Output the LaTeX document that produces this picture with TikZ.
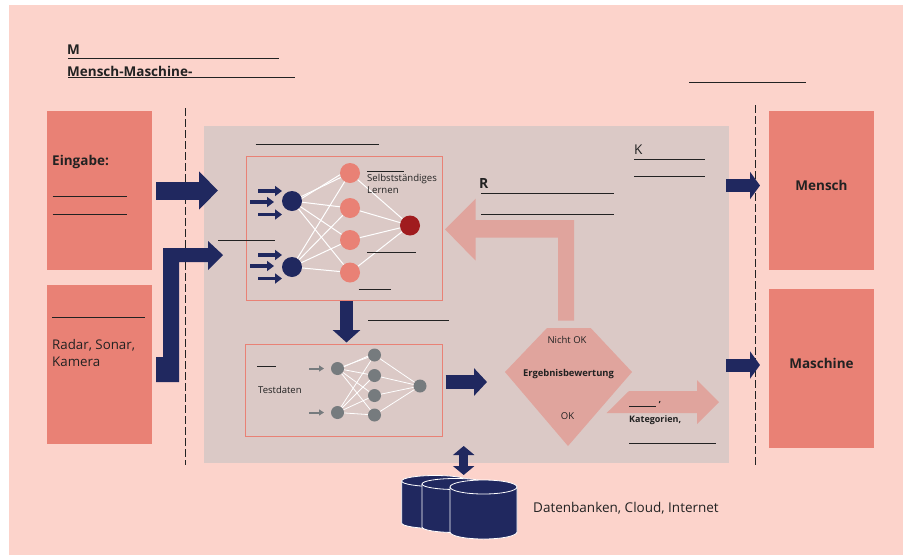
\documentclass[tikz,border=0pt]{standalone}
\usepackage{fontspec}
\setmainfont{Open Sans}
\usetikzlibrary{arrows.meta}
\definecolor{pagepink}{HTML}{FCD3CB}
\definecolor{panelgrey}{HTML}{DBC9C6}
\definecolor{salmon}{HTML}{E98175}
\definecolor{navy}{HTML}{20285F}
\definecolor{darkred}{HTML}{A01B1E}
\definecolor{netgrey}{HTML}{767B7E}
\definecolor{softred}{HTML}{E0A49D}
\definecolor{inkdark}{HTML}{222222}
\begin{document}
\begin{tikzpicture}
  [x=1pt, y=-1pt,
   every node/.style={inner sep=0pt, text=inkdark},
   label small/.style={anchor=west, font=\fontsize{9.5}{11}\selectfont},
   label mid/.style={anchor=west, font=\fontsize{13.5}{15}\selectfont},
   label bold/.style={font=\fontsize{13.5}{15}\selectfont\bfseries},
   sidebox/.style={fill=salmon, minimum width=105pt, minimum height=159pt},
   netbox/.style={draw=salmon, line width=1pt},
   neuron/.style={circle, minimum size=20pt, fill=salmon},
   neuron grey/.style={circle, minimum size=13pt, fill=netgrey},
   link/.style={draw=white, line width=1pt},
   rule/.style={draw=inkdark, line width=0.8pt},
   divider/.style={draw=inkdark, line width=0.8pt, dash pattern=on 8pt off 3pt},
   navyarrow/.style={navy, line width=#1}]

  \useasboundingbox (0,0) rectangle (906,555);
  \fill[pagepink] (9,5) rectangle (903,555);
  \fill[panelgrey] (204,126) rectangle (729,463);
  \draw[divider] (185.5,108) -- (185.5,465);
  \draw[divider] (755,105) -- (755,467);

  % side boxes
  \node[sidebox] (eingabe) at (99.5,190.5) {};
  \node[sidebox] (sensor) at (99.5,364.5) {};
  \node[sidebox] (mensch) at (821.5,190.5) {};
  \node[sidebox] (maschine) at (821.5,368.5) {};
  \node[label bold, anchor=west] (eingabeText) at (52,162) {Eingabe:};
  \node[label mid, align=left, font=\fontsize{13.3}{16.5}\selectfont] (sensorText) at (52,353) {Radar, Sonar,\\Kamera};
  \node[label bold] (menschText) at (821.5,185) {Mensch};
  \node[label bold] (maschineText) at (821.5,363) {Maschine};

  % training net
  \draw[netbox] (246,156) rectangle (442.5,300);
  \node[neuron, fill=navy] (i1) at (292,201) {};
  \node[neuron, fill=navy] (i2) at (292,267) {};
  \node[neuron] (h1) at (350,173) {};
  \node[neuron] (h2) at (350,208) {};
  \node[neuron] (h3) at (350,240) {};
  \node[neuron] (h4) at (350,272.5) {};
  \node[neuron, fill=darkred] (o1) at (410,225.5) {};
  \foreach \a in {i1,i2}
    \foreach \b in {h1,h2,h3,h4}
      \draw[link] (\a) -- (\b);
  \draw[link] (i1.15) -- (h1.190);
  \foreach \b in {h1,h2,h3,h4}
    \draw[link] (\b) -- (o1);
  \foreach \xa/\xb/\yy in {258/282/191,250/274/202,258/282/214.5,258/282/255,250/274/266,258/282/278.5}
    \draw[navy, line width=3.5pt, -{Triangle[length=7pt,width=10pt]}] (\xa,\yy) -- (\xb,\yy);
  \node[label small, align=left, font=\fontsize{9.6}{12}\selectfont] (lernText) at (367,184) {Selbstständiges\\Lernen};

  % test net
  \draw[netbox] (245.5,344.5) rectangle (442.5,436.5);
  \node[neuron grey] (ti1) at (337.5,368.5) {};
  \node[neuron grey] (ti2) at (337.5,412.5) {};
  \node[neuron grey] (th1) at (374.5,355) {};
  \node[neuron grey] (th2) at (374.5,375.5) {};
  \node[neuron grey] (th3) at (374.5,395.5) {};
  \node[neuron grey] (th4) at (374.5,415) {};
  \node[neuron grey] (to1) at (420,386) {};
  \foreach \a in {ti1,ti2}
    \foreach \b in {th1,th2,th3,th4}
      \draw[link, line width=0.8pt] (\a) -- (\b);
  \draw[link, line width=0.8pt] (ti1.15) -- (th1.190);
  \foreach \b in {th1,th2,th3,th4}
    \draw[link, line width=0.8pt] (\b) -- (to1);
  \foreach \yy in {368.5,412.5}
    \draw[netgrey, line width=2pt, -{Triangle[length=5pt,width=6pt]}] (309,\yy) -- (324,\yy);
  \node[label small] (testText) at (258,390) {Testdaten};

  % evaluation
  \fill[softred] (547,328) -- (590.7,328) -- (632,372) -- (568,446) -- (505,372) -- cycle;
  \node[font=\fontsize{9.5}{11}\selectfont] (nichtOk) at (567,340) {Nicht OK};
  \node[font=\fontsize{9.4}{11}\selectfont\bfseries] (bewertung) at (568.5,374) {Ergebnisbewertung};
  \node[font=\fontsize{9.5}{11}\selectfont] (ok) at (567.5,416) {OK};
  \fill[softred] (558,320.7) -- (574,320.7) -- (574,220) -- (475.7,220) -- (475.7,198.7)
    -- (445,229.3) -- (475.7,260.7) -- (475.7,237.7) -- (558,237.7) -- cycle;
  \fill[softred] (606.7,413) -- (629,391) -- (697,391) -- (697,380) -- (719,402)
    -- (697,424) -- (697,413) -- cycle;
  \node[label small, font=\fontsize{9}{11}\selectfont\bfseries] (kategorien) at (629,420) {Kategorien,};
  \node[font=\fontsize{9}{11}\selectfont\bfseries] (komma) at (660,403) {,};

  % headings
  \node[label bold, anchor=west] (titleM) at (67,50) {M};
  \node[label bold, anchor=west] (titleMM) at (67,71) {Mensch-Maschine-};
  \node[label bold, anchor=west, font=\fontsize{14}{15}\selectfont\bfseries] (letterR) at (479,183) {R};
  \node[label mid] (letterK) at (634,150) {K};
  \node[label mid] (quellen) at (533,508) {Datenbanken, Cloud, Internet};

  % text rules
  \foreach \xa/\xb/\yy in {68/279/58,68/295/77.5,689/806/82,52.5/127/196.5,52.5/127/214.5,52/145/317,
      255.7/379/144.3,218/275/240,367/404/171.7,367/416/252.3,358.5/391/289.3,368/449/320.5,257/276/366,
      481/614/193,481/614/214.5,634/705/159,634/705/176,629/656/406,629/716/443}
    \draw[rule] (\xa,\yy) -- (\xb,\yy);

  % block arrows
  \coordinate (eingabeTail) at (156,190.5);
  \coordinate (eingabeTip) at (218,190.5);
  \coordinate (trainTail) at (346.5,301);
  \coordinate (trainTip) at (346.5,342.5);
  \coordinate (testTail) at (445.7,382);
  \coordinate (testTip) at (487,382);
  \coordinate (outTailA) at (726,185.5);
  \coordinate (outTipA) at (760,185.5);
  \coordinate (outTailB) at (726,365);
  \coordinate (outTipB) at (760,365);
  \coordinate (dbTop) at (463.7,446);
  \coordinate (dbBottom) at (463.7,475);
  \draw[navyarrow=18pt, -{Triangle[length=19pt,width=37pt]}] (eingabeTail) -- (eingabeTip);
  \draw[navyarrow=13pt, -{Triangle[length=12.5pt,width=27pt]}] (trainTail) -- (trainTip);
  \draw[navyarrow=14pt, -{Triangle[length=13pt,width=27pt]}] (testTail) -- (testTip);
  \draw[navyarrow=13pt, -{Triangle[length=10pt,width=27pt]}] (outTailA) -- (outTipA);
  \draw[navyarrow=13pt, -{Triangle[length=10pt,width=27pt]}] (outTailB) -- (outTipB);
  \draw[navyarrow=9pt, {Triangle[length=9pt,width=21pt]}-{Triangle[length=9pt,width=21pt]}] (dbTop) -- (dbBottom);
  \fill[navy] (156,382) -- (179,382) -- (179,262) -- (208,262) -- (208,270) -- (223,255)
    -- (208,241) -- (208,248) -- (163,248) -- (163,357) -- (156,357) -- cycle;

  % databases
  \foreach \xx/\yy/\hh/\ry in {401.7/481/42/5.5,422/484/43/5.5,450/487/45/7}
    {\draw[draw=white, line width=0.8pt, fill=navy] (\xx,\yy) arc (180:0:33.5pt and \ry pt)
       -- ++(0,\hh) arc (0:-180:33.5pt and \ry pt) -- cycle;
     \draw[white, line width=0.8pt] (\xx,\yy) arc (180:360:33.5pt and \ry pt);}
\end{tikzpicture}
\end{document}
